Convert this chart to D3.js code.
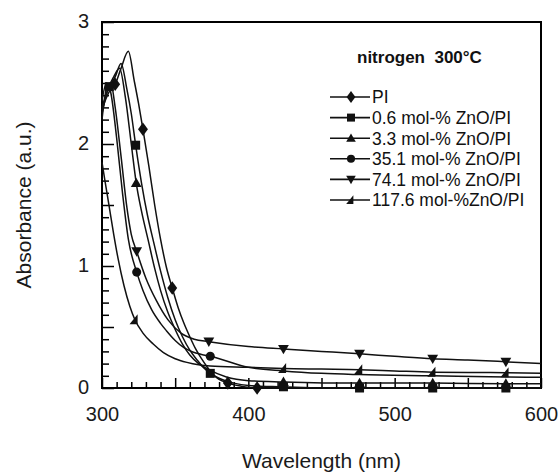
<!DOCTYPE html>
<html><head><meta charset="utf-8">
<script src="https://cdn.jsdelivr.net/npm/d3@7"></script>
<style>
html,body{margin:0;padding:0;background:#fff;}
svg{display:block;font-family:"Liberation Sans",Arial,sans-serif;}
</style></head>
<body><svg id="c" width="560" height="472"></svg>
<script>
// ---- data ----
const seriesNames = ["PI","0.6 mol-% ZnO/PI","3.3 mol-% ZnO/PI","35.1 mol-% ZnO/PI","74.1 mol-% ZnO/PI","117.6 mol-%ZnO/PI"];
const seriesSymbols = ["diamond","square","triangle","circle","triangleDown","wedge"];

const piCurve = [[300,2.28],[303,2.38],[306,2.45],[309,2.49],[313,2.62],[318,2.76],[322,2.52],[325,2.33],[328,2.12],[332,1.82],[336,1.50],[340,1.22],[344,0.99],[348,0.82],[352,0.66],[356,0.53],[360,0.42],[364,0.32],[368,0.24],[372,0.17],[376,0.11],[380,0.07],[386,0.04],[395,0.015],[406,0.0],[425,0.0],[450,0.0],[475,0.0],[500,0.0],[525,0.0],[550,0.0],[575,0.0],[600,0.0]];
const piMarks = [[309,2.49],[328,2.12],[348,0.82],[386,0.04],[406,0.0]];

const zn06Curve = [[300,2.30],[305,2.47],[309,2.55],[313,2.66],[317,2.45],[320,2.25],[323,1.99],[327,1.68],[331,1.42],[335,1.21],[340,0.96],[345,0.74],[350,0.56],[355,0.42],[360,0.31],[365,0.23],[370,0.16],[374,0.12],[380,0.08],[390,0.04],[400,0.02],[424,0.01],[450,0.0],[476,0.0],[526,0.0],[576,0.0],[600,0.0]];
const zn06Marks = [[305,2.47],[323,1.99],[374,0.12],[424,0.01],[476,0.0],[526,0.0],[576,0.0]];

const zn33Curve = [[300,2.25],[304,2.45],[308,2.55],[312,2.62],[316,2.38],[320,2.0],[323.4,1.68],[327,1.45],[331.6,1.21],[336,0.98],[340,0.80],[345,0.62],[350,0.48],[355,0.36],[360,0.27],[366,0.20],[373,0.15],[385,0.09],[400,0.06],[424,0.05],[476,0.04],[526,0.04],[576,0.035],[600,0.035]];
const zn33Marks = [[323.4,1.68],[424,0.05],[476,0.04],[526,0.04],[576,0.035]];

const zn351Curve = [[300,2.35],[303,2.50],[306,2.42],[310,2.05],[314,1.60],[318,1.22],[323.7,0.95],[328,0.80],[334,0.64],[340,0.53],[344,0.47],[350,0.39],[356,0.33],[362,0.295],[368,0.275],[374,0.26],[400,0.17],[424,0.14],[450,0.12],[476,0.11],[526,0.10],[576,0.09],[600,0.088]];
const zn351Marks = [[323.7,0.95],[374,0.26]];

const zn741Curve = [[300,2.20],[303,2.45],[306,2.50],[309,2.30],[313,1.90],[317,1.48],[320,1.26],[323.7,1.12],[330,0.90],[337,0.72],[345,0.56],[354,0.45],[363,0.40],[373,0.38],[400,0.34],[424,0.32],[450,0.30],[476,0.28],[500,0.26],[526,0.24],[550,0.23],[576,0.215],[600,0.20]];
const zn741Marks = [[323.7,1.12],[373,0.38],[424,0.32],[476,0.28],[526,0.24],[576,0.215]];

const zn1176Curve = [[300,1.85],[302,1.70],[305,1.48],[308,1.26],[311,1.06],[315,0.84],[319,0.67],[322.5,0.56],[328,0.45],[335,0.36],[342,0.29],[350,0.24],[358,0.21],[366,0.19],[374,0.18],[400,0.17],[424,0.16],[450,0.155],[476,0.15],[500,0.14],[526,0.13],[550,0.128],[576,0.125],[600,0.12]];
const zn1176Marks = [[322.5,0.56],[424,0.16],[476,0.15],[526,0.13],[576,0.125]];

const curves = [piCurve,zn06Curve,zn33Curve,zn351Curve,zn741Curve,zn1176Curve];
const marks = [piMarks,zn06Marks,zn33Marks,zn351Marks,zn741Marks,zn1176Marks];

const xMajorLabels = [300,400,500,600];
const yMajorLabels = [0,1,2,3];
const titleText = "nitrogen\u00a0\u00a0300\u00b0C";
const xTitle = "Wavelength (nm)";
const yTitle = "Absorbance (a.u.)";

// ---- drawing ----
const svg = d3.select("#c");
const L=102,R=541,T=22,B=388;
const x = d3.scaleLinear().domain([300,600]).range([L,R]);
const y = d3.scaleLinear().domain([0,3]).range([B,T]);

// bottom axis
const xTicks = d3.range(300,601,10);
const gx = svg.append("g").attr("transform",`translate(0,${B})`)
  .call(d3.axisBottom(x).tickValues(xTicks).tickSize(-6).tickPadding(19)
    .tickFormat(d=>xMajorLabels.includes(d)?d:""));
gx.select(".domain").remove();
gx.selectAll(".tick line").attr("y2",d=>d%50===0?-10:-6).attr("stroke","#000").attr("stroke-width",1.5);
gx.selectAll(".tick text").attr("font-size",20).attr("fill","#1a1a1a").attr("font-family","'Liberation Sans',Arial,sans-serif");

// left axis
const yTicks = d3.range(0,31,1).map(v=>v/10);
const gy = svg.append("g").attr("transform",`translate(${L},0)`)
  .call(d3.axisLeft(y).tickValues(yTicks).tickSize(-7).tickPadding(13)
    .tickFormat(d=>yMajorLabels.includes(d)?d:""));
gy.select(".domain").remove();
gy.selectAll(".tick line").attr("x2",d=>Math.abs(d*2-Math.round(d*2))<1e-6?12:7).attr("stroke","#000").attr("stroke-width",1.5);
gy.selectAll(".tick text").attr("font-size",20).attr("fill","#1a1a1a").attr("font-family","'Liberation Sans',Arial,sans-serif").attr("dy","0.28em");

// frame
svg.append("rect").attr("x",L).attr("y",T).attr("width",R-L).attr("height",B-T)
  .attr("fill","none").attr("stroke","#000").attr("stroke-width",2);

// curves
const line = d3.line().x(d=>x(d[0])).y(d=>y(d[1])).curve(d3.curveMonotoneX);
const gl = svg.append("g");
curves.forEach(c=>{
  gl.append("path").attr("d",line(c)).attr("fill","none").attr("stroke","#111").attr("stroke-width",1.5);
});

// symbols
function symPath(name,s){
  switch(name){
    case "diamond": return `M0,${-s*0.75}L${s*0.55},0L0,${s*0.75}L${-s*0.55},0Z`;
    case "square": return `M${-s/2},${-s/2}h${s}v${s}h${-s}Z`;
    case "triangle": return `M0,${-s*0.6}L${s*0.6},${s*0.45}L${-s*0.6},${s*0.45}Z`;
    case "triangleDown": return `M0,${s*0.6}L${s*0.6},${-s*0.45}L${-s*0.6},${-s*0.45}Z`;
    case "circle": return d3.symbol(d3.symbolCircle, s*s*0.8)();
    case "wedge": return `M${-s*0.6},${s*0.5}L${s*0.3},${s*0.5}L${s*0.3},${-s*0.6}Z`;
  }
}
const gm = svg.append("g");
marks.forEach((m,i)=>{
  gm.selectAll(null).data(m).enter().append("path")
    .attr("d",symPath(seriesSymbols[i],9))
    .attr("transform",d=>`translate(${x(d[0])},${y(d[1])})`)
    .attr("fill","#111");
});

// title
svg.append("text").attr("x",357).attr("y",63).attr("font-size",17).attr("font-weight","bold")
  .attr("fill","#111").text(titleText);

// legend
const lg = svg.append("g");
seriesNames.forEach((n,i)=>{
  const yy = 97 + i*20.6;
  lg.append("line").attr("x1",330).attr("x2",370).attr("y1",yy).attr("y2",yy).attr("stroke","#111").attr("stroke-width",1.6);
  lg.append("path").attr("d",symPath(seriesSymbols[i],8)).attr("transform",`translate(351,${yy})`).attr("fill","#111");
  lg.append("text").attr("x",372).attr("y",yy).attr("dy","0.36em").attr("font-size",17.5).attr("fill","#111").text(n);
});

// axis titles
svg.append("text").attr("x",(L+R)/2).attr("y",468).attr("text-anchor","middle").attr("font-size",21).attr("fill","#1a1a1a").text(xTitle);
svg.append("text").attr("transform",`translate(31,${(T+B)/2}) rotate(-90)`).attr("text-anchor","middle").attr("font-size",21).attr("fill","#1a1a1a").text(yTitle);
</script></body></html>
